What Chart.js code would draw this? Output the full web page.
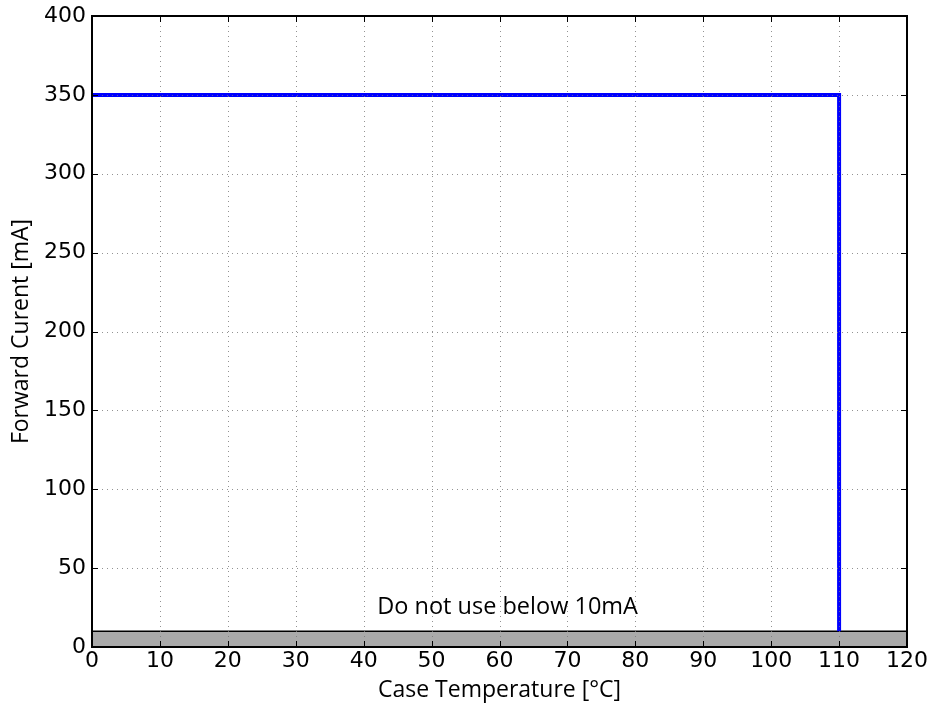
<!DOCTYPE html>
<html>
<head>
<meta charset="utf-8">
<script src="https://cdn.jsdelivr.net/npm/chart.js@4/dist/chart.umd.min.js"></script>
<style>
  html, body { margin: 0; padding: 0; background: #fff; }
  #wrap { width: 936px; height: 709px; }
</style>
</head>
<body>
<div id="wrap"><canvas id="chart" width="936" height="709"></canvas></div>
<script>
// derating curve
const caseTemp = [0, 110, 110];
const forwardCurrent = [350, 350, 10];

// "do not use" band
const bandTemp = [0, 120];
const bandCurrent = [10, 10];

const xTicks = [0, 10, 20, 30, 40, 50, 60, 70, 80, 90, 100, 110, 120];
const yTicks = [0, 50, 100, 150, 200, 250, 300, 350, 400];
const noteText = 'Do not use below 10mA';
const notePos = { x: 42, y: 25 };

const tickFont = 'DejaVu Sans';
const textFont = 'Open Sans';

// matplotlib-ish frame, inside ticks, dotted grid on top of the data
const framePlugin = {
  id: 'frame',
  afterDatasetsDraw(chart) {
    const { ctx, chartArea: a, scales: { x, y } } = chart;
    ctx.save();
    ctx.strokeStyle = 'rgba(120,120,120,0.8)';
    ctx.lineWidth = 1;
    ctx.setLineDash([1, 4]);
    xTicks.forEach(v => {
      const px = Math.round(x.getPixelForValue(v)) + 0.5;
      ctx.beginPath(); ctx.moveTo(px, a.top); ctx.lineTo(px, a.bottom); ctx.stroke();
    });
    yTicks.forEach(v => {
      const py = Math.round(y.getPixelForValue(v)) + 0.5;
      ctx.beginPath(); ctx.moveTo(a.left, py); ctx.lineTo(a.right, py); ctx.stroke();
    });
    ctx.setLineDash([]);
    ctx.strokeStyle = '#000';
    ctx.lineWidth = 1;
    xTicks.forEach(v => {
      const px = Math.round(x.getPixelForValue(v)) + 0.5;
      ctx.beginPath(); ctx.moveTo(px, a.bottom); ctx.lineTo(px, a.bottom - 6); ctx.stroke();
      ctx.beginPath(); ctx.moveTo(px, a.top); ctx.lineTo(px, a.top + 6); ctx.stroke();
    });
    yTicks.forEach(v => {
      const py = Math.round(y.getPixelForValue(v)) + 0.5;
      ctx.beginPath(); ctx.moveTo(a.left, py); ctx.lineTo(a.left + 6, py); ctx.stroke();
      ctx.beginPath(); ctx.moveTo(a.right, py); ctx.lineTo(a.right - 6, py); ctx.stroke();
    });
    ctx.lineWidth = 2;
    ctx.strokeRect(a.left, a.top, a.right - a.left, a.bottom - a.top);

    ctx.fillStyle = '#000';
    ctx.font = '23.5px "' + textFont + '"';
    ctx.textAlign = 'left';
    ctx.textBaseline = 'middle';
    ctx.fillText(noteText, x.getPixelForValue(notePos.x), y.getPixelForValue(notePos.y));
    ctx.restore();
  }
};

new Chart(document.getElementById('chart'), {
  type: 'line',
  data: {
    datasets: [
      {
        label: 'limit',
        data: caseTemp.map((t, i) => ({ x: t, y: forwardCurrent[i] })),
        borderColor: '#0000ff',
        borderWidth: 4,
        pointRadius: 0,
        fill: false,
        tension: 0,
        order: 1
      },
      {
        label: 'band',
        data: bandTemp.map((t, i) => ({ x: t, y: bandCurrent[i] })),
        borderColor: '#000',
        borderWidth: 1.5,
        backgroundColor: '#aaaaaa',
        pointRadius: 0,
        fill: 'origin',
        order: 2
      }
    ]
  },
  plugins: [framePlugin],
  options: {
    responsive: false,
    animation: false,
    layout: { padding: { top: 16, right: 29, left: 6, bottom: 0 } },
    plugins: { legend: { display: false }, tooltip: { enabled: false } },
    scales: {
      x: {
        type: 'linear',
        min: 0, max: 120,
        afterBuildTicks: s => { s.ticks = xTicks.map(v => ({ value: v })); },
        afterFit: s => { s.height = 62; s.paddingLeft = 0; s.paddingRight = 0; },
        grid: { display: false, drawTicks: false },
        border: { display: false },
        ticks: { color: '#000', font: { family: tickFont, size: 22 }, padding: 1, maxRotation: 0 },
        title: { display: true, text: 'Case Temperature [°C]', color: '#000', font: { family: textFont, size: 23 }, padding: { top: 0, bottom: 5 } }
      },
      y: {
        min: 0, max: 400,
        afterBuildTicks: s => { s.ticks = yTicks.map(v => ({ value: v })); },
        afterFit: s => { s.width = 86; s.paddingTop = 0; s.paddingBottom = 0; },
        grid: { display: false, drawTicks: false },
        border: { display: false },
        ticks: { color: '#000', font: { family: tickFont, size: 22 }, padding: 6 },
        title: { display: true, text: 'Forward Curent [mA]', color: '#000', font: { family: textFont, size: 23 }, padding: { top: 2, bottom: 0 } }
      }
    }
  }
});
</script>
</body>
</html>
